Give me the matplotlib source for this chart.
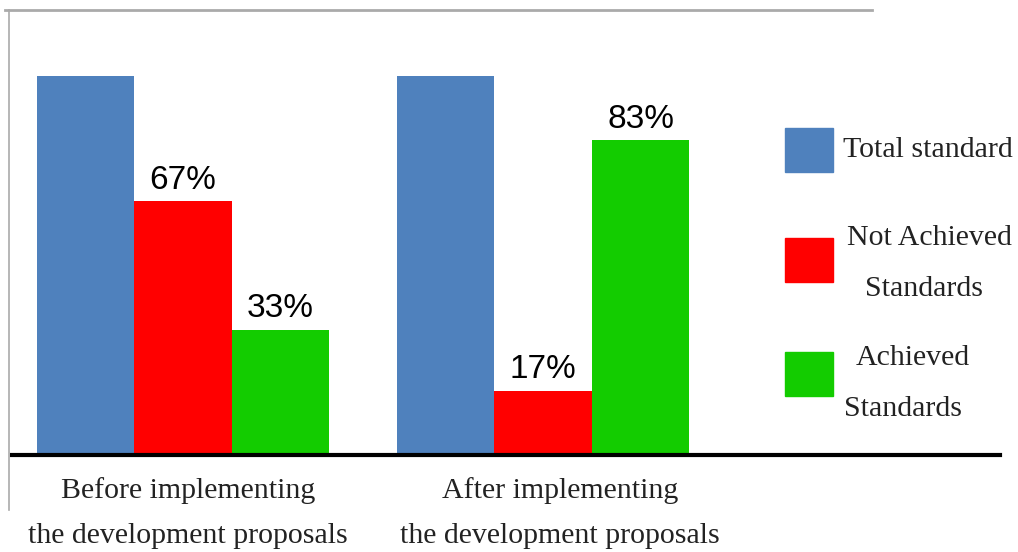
import matplotlib.pyplot as plt
import numpy as np
from matplotlib.lines import Line2D
from matplotlib.patches import Rectangle

# data
groups = ["Before implementing\nthe development proposals",
          "After implementing\nthe development proposals"]
series = ["Total standard", "Not Achieved\nStandards", "Achieved\nStandards"]
total = [100, 100]
not_achieved = [67, 17]
achieved = [33, 83]
colors = ["#4f81bd", "#ff0000", "#13cc00"]

W, H = 1018, 552
fig = plt.figure(figsize=(W / 100, H / 100), dpi=100)
ax = fig.add_axes([12 / W, 97 / H, 988 / W, 379 / H])

x = np.arange(len(groups))
w = 0.271
b1 = ax.bar(x - w, total, w, color=colors[0], zorder=1)
b2 = ax.bar(x, not_achieved, w, color=colors[1], zorder=1)
b3 = ax.bar(x + w, achieved, w, color=colors[2], zorder=1)

for bars in (b2, b3):
    ax.bar_label(bars, labels=[f"{v}%" for v in bars.datavalues], padding=4,
                 fontsize=24, family="Liberation Sans", color="black", clip_on=False)

ax.set_xlim(-0.475, 2.269)
ax.set_ylim(0, 100)
for s in ["top", "left", "right"]:
    ax.spines[s].set_visible(False)
ax.spines["bottom"].set_linewidth(3)
ax.spines["bottom"].set_zorder(3)
ax.set_yticks([])
ax.set_xticks(x + np.array([0.014, 0.047]))
ax.set_xticklabels(groups, family="Liberation Serif", fontsize=21.5, color="#222222",
                   linespacing=1.95)
ax.tick_params(axis="x", length=0, pad=16)

# legend, drawn by hand so the two-line labels sit like the original
fs = 21.5
box_y = [150, 260, 374]          # centre of each swatch (px from top)
line_pos = [[(843, 150)],
            [(847, 238), (865, 289)],
            [(856, 358), (844, 409)]]
for col, lab, yc, pos in zip(colors, series, box_y, line_pos):
    fig.add_artist(Rectangle((785 / W, 1 - (yc + 22) / H), 48 / W, 44 / H,
                             color=col, transform=fig.transFigure))
    for txt, (px, py) in zip(lab.split("\n"), pos):
        fig.text(px / W, 1 - py / H, txt, ha="left", va="center",
                 family="Liberation Serif", fontsize=fs, color="#222222")

# screenshot frame
fig.add_artist(Line2D([5 / W, 872 / W], [1 - 10 / H, 1 - 10 / H],
                      color="#aaaaaa", lw=2, transform=fig.transFigure))
fig.add_artist(Line2D([9 / W, 9 / W], [1 - 10 / H, 1 - 510 / H],
                      color="#aaaaaa", lw=1.2, transform=fig.transFigure))

fig.savefig("out.png", dpi=100)
